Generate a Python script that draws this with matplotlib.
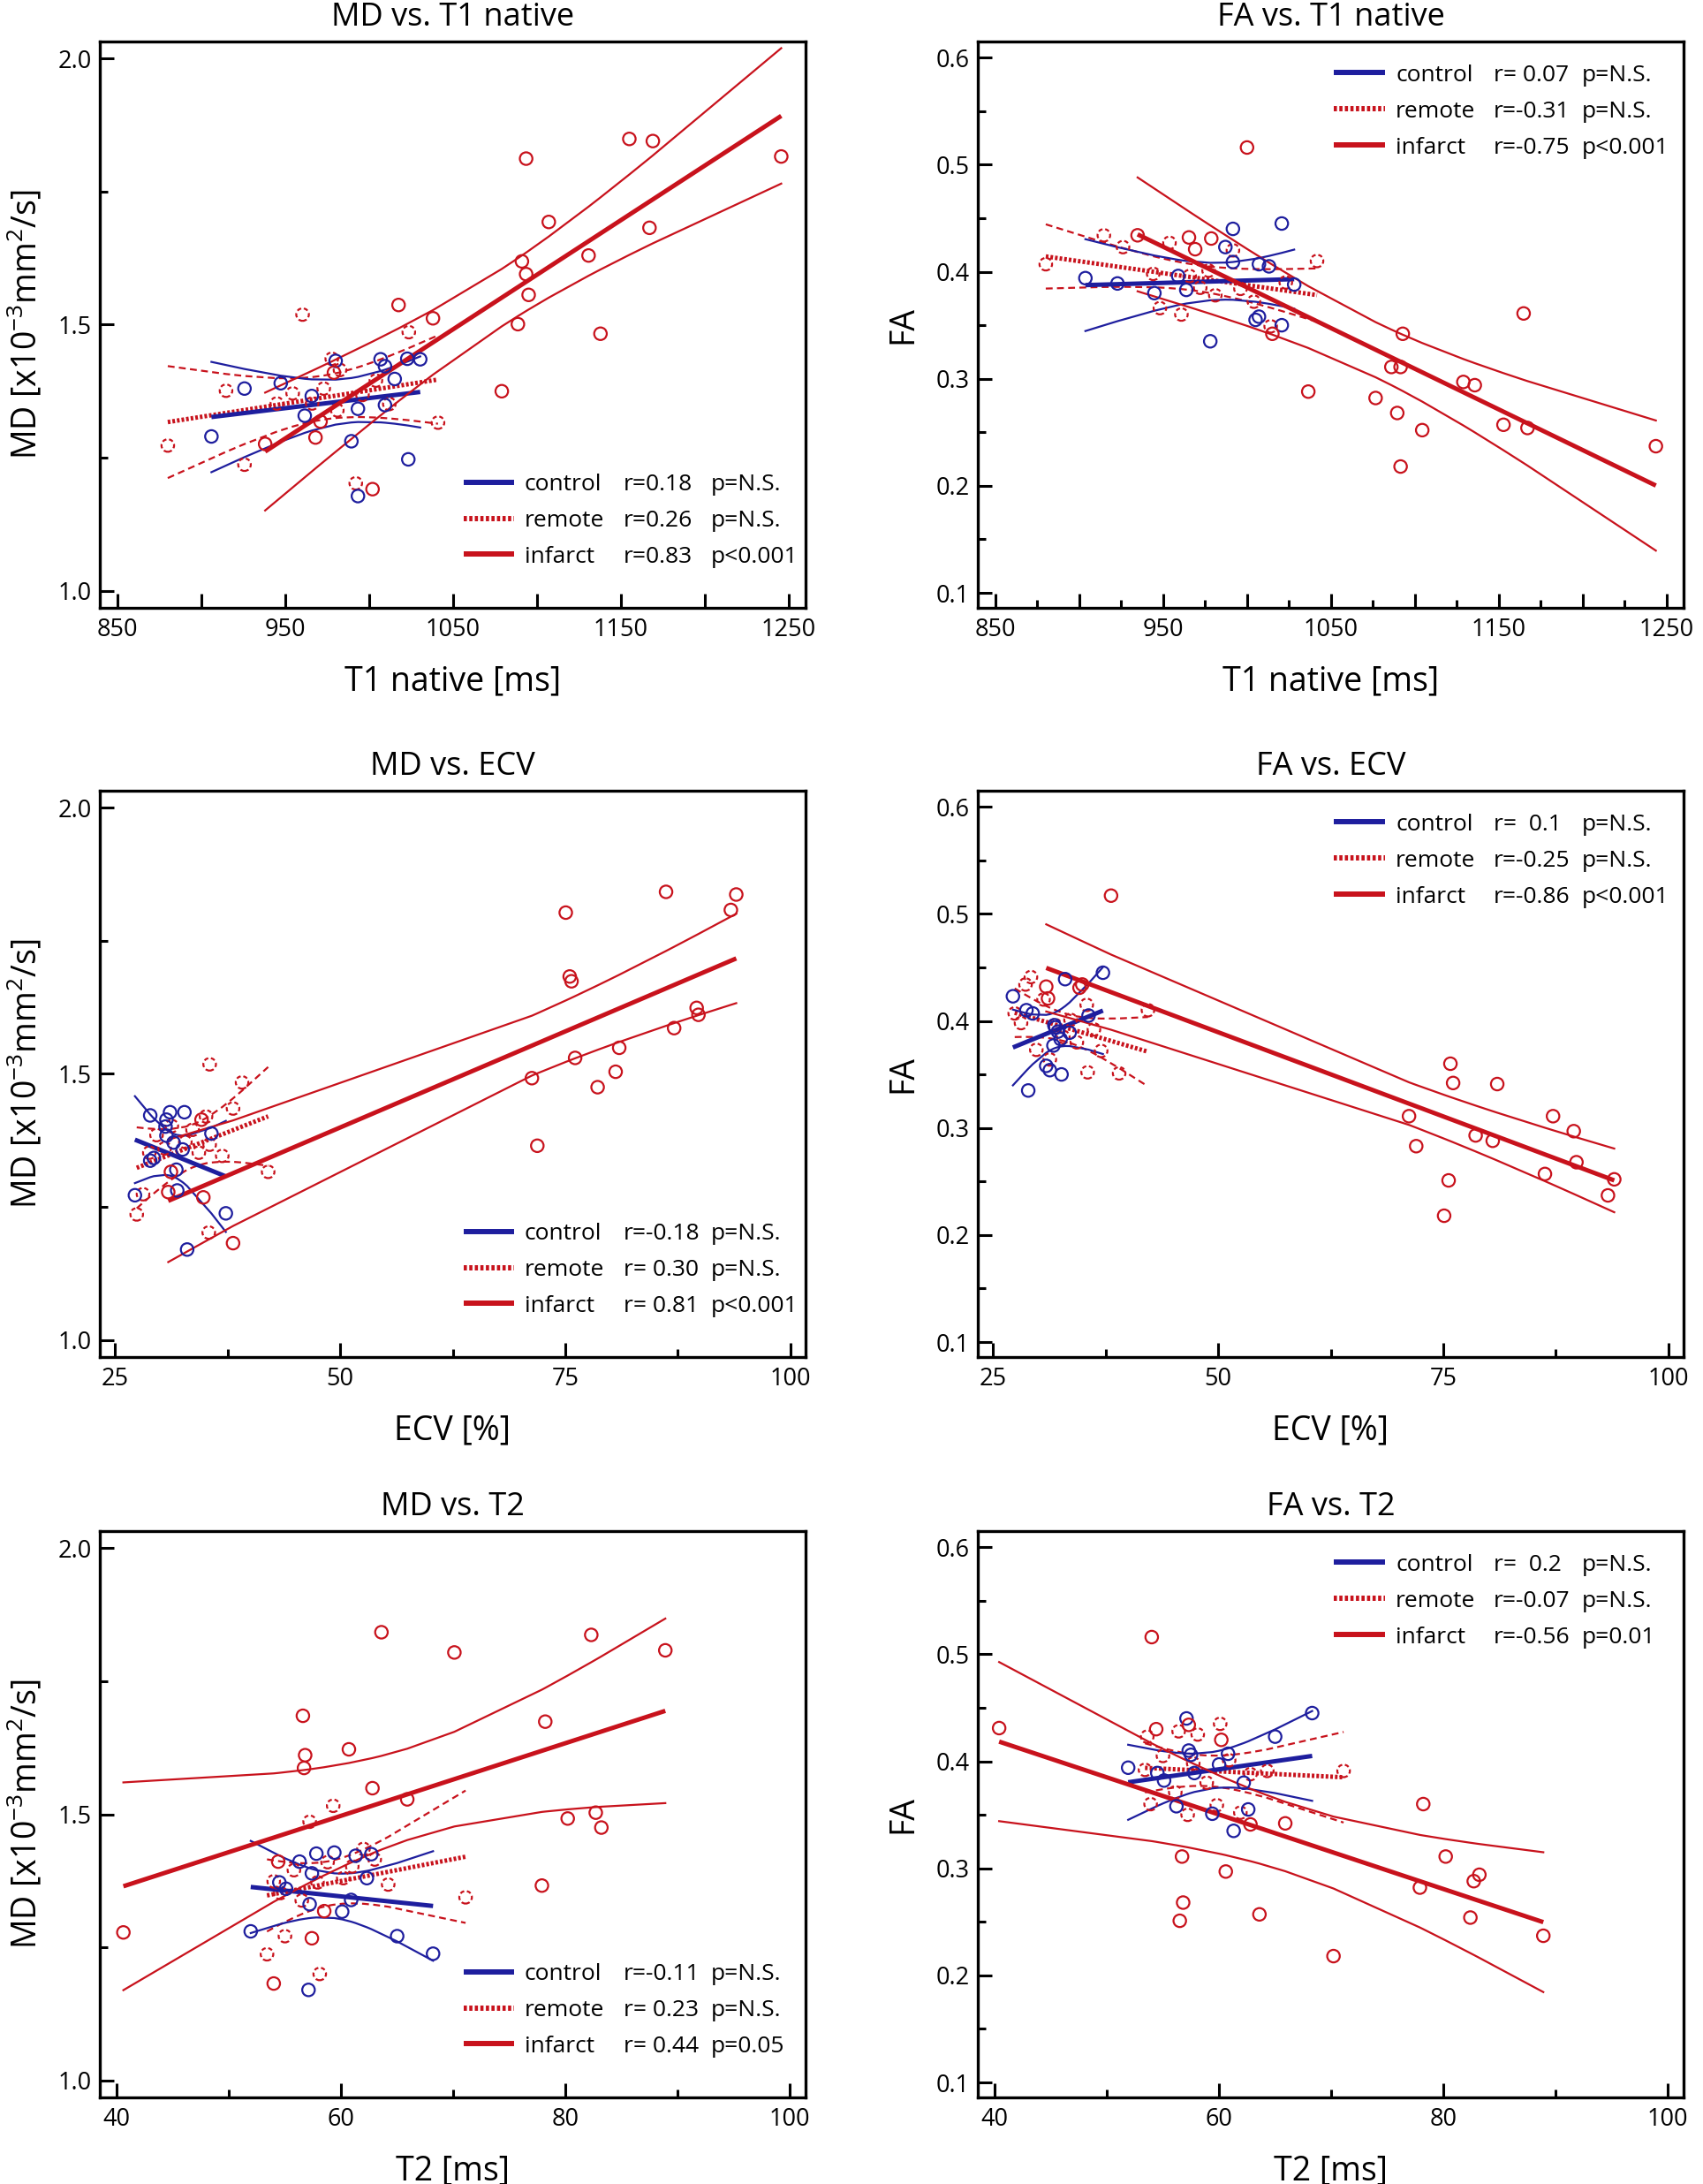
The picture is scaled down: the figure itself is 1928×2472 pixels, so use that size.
import numpy as np
import matplotlib
matplotlib.use('Agg')
import matplotlib.pyplot as plt

plt.rcParams['font.family'] = ['Open Sans', 'DejaVu Sans']
plt.rcParams['mathtext.fontset'] = 'custom'
plt.rcParams['mathtext.rm'] = 'Open Sans'
plt.rcParams['mathtext.it'] = 'Open Sans'

BLUE = '#1e1e9e'
RED = '#c8121c'

# ---------------- data ----------------
# MD vs. T1 native
md_t1_ctrl_x = [906, 925.7, 947.3, 961.6, 965.8, 980, 989.4, 993.3, 993.3, 1006.8, 1009.4, 1009.4, 1015.2, 1022.7, 1023.3, 1030.4]
md_t1_ctrl_y = [1.290, 1.380, 1.390, 1.329, 1.366, 1.432, 1.281, 1.342, 1.178, 1.435, 1.422, 1.349, 1.398, 1.436, 1.247, 1.435]
md_t1_rem_x = [880, 914.7, 925.7, 945, 954.4, 960.3, 966, 972.9, 977.7, 982.6, 981, 992, 996, 1004, 1012, 1023.6, 1041]
md_t1_rem_y = [1.273, 1.376, 1.237, 1.352, 1.371, 1.519, 1.352, 1.380, 1.436, 1.415, 1.339, 1.202, 1.368, 1.395, 1.351, 1.486, 1.316]
md_t1_inf_x = [938, 968, 971, 979, 1002, 1017.5, 1038, 1079, 1088.6, 1091, 1093.5, 1095, 1093.5, 1107, 1130.7, 1137.8, 1155, 1169, 1167, 1245.5]
md_t1_inf_y = [1.276, 1.288, 1.318, 1.410, 1.191, 1.537, 1.512, 1.375, 1.501, 1.619, 1.595, 1.556, 1.812, 1.693, 1.630, 1.483, 1.849, 1.845, 1.682, 1.816]

# FA vs. T1 native
fa_t1_ctrl_x = [903.6, 922.7, 944.7, 958.9, 963.7, 978, 987, 991.5, 991.5, 1005, 1007, 1007, 1013, 1020.6, 1020.6, 1028]
fa_t1_ctrl_y = [0.394, 0.389, 0.380, 0.396, 0.383, 0.335, 0.423, 0.440, 0.409, 0.355, 0.358, 0.407, 0.405, 0.350, 0.445, 0.388]
fa_t1_rem_x = [880, 914.6, 926, 944, 948, 953.7, 960.8, 965.7, 972, 977, 981, 991.5, 996, 1004, 1014, 1023, 1041.6]
fa_t1_rem_y = [0.407, 0.434, 0.423, 0.398, 0.366, 0.427, 0.360, 0.396, 0.385, 0.401, 0.378, 0.420, 0.384, 0.372, 0.349, 0.390, 0.410]
fa_t1_inf_x = [934.7, 965.3, 969, 978.6, 999.9, 1015, 1036.4, 1076.5, 1085.9, 1089.4, 1091.4, 1092.7, 1091.4, 1104.3, 1128.8, 1135.6, 1152.7, 1164.7, 1167, 1243.5]
fa_t1_inf_y = [0.434, 0.432, 0.421, 0.431, 0.516, 0.342, 0.288, 0.282, 0.311, 0.268, 0.311, 0.342, 0.218, 0.252, 0.297, 0.294, 0.257, 0.361, 0.254, 0.237]

# MD vs. ECV
md_ecv_ctrl_x = [27.2, 28.9, 29.3, 28.9, 30.7, 31.1, 32.7, 30.7, 31.5, 32.5, 35.7, 31.8, 31.9, 37.3, 33.0, 30.6]
md_ecv_ctrl_y = [1.272, 1.337, 1.342, 1.422, 1.414, 1.428, 1.428, 1.384, 1.371, 1.358, 1.388, 1.320, 1.281, 1.238, 1.170, 1.401]
md_ecv_rem_x = [27.4, 28.1, 28.8, 29.6, 30.5, 31.3, 32.8, 33.6, 34.3, 35.1, 35.4, 35.5, 35.5, 36.9, 38.1, 39.1, 42.0]
md_ecv_rem_y = [1.236, 1.274, 1.352, 1.385, 1.360, 1.402, 1.372, 1.395, 1.352, 1.420, 1.202, 1.518, 1.367, 1.346, 1.435, 1.484, 1.316]
md_ecv_inf_x = [30.9, 31.2, 34.6, 34.8, 38.1, 71.3, 71.9, 75.06, 75.5, 75.7, 76.1, 78.6, 80.6, 81.0, 86.2, 87.1, 89.6, 89.8, 93.4, 94.0]
md_ecv_inf_y = [1.278, 1.316, 1.414, 1.268, 1.182, 1.492, 1.365, 1.803, 1.683, 1.674, 1.530, 1.475, 1.504, 1.549, 1.842, 1.586, 1.624, 1.611, 1.808, 1.837]

# FA vs. ECV
fa_ecv_ctrl_x = [27.2, 28.7, 29.4, 33.0, 37.2, 35.6, 31.8, 32.2, 32.5, 30.9, 31.3, 32.6, 28.9, 31.7, 31.9, 33.5]
fa_ecv_ctrl_y = [0.423, 0.410, 0.407, 0.439, 0.445, 0.405, 0.396, 0.390, 0.383, 0.358, 0.354, 0.350, 0.335, 0.377, 0.394, 0.389]
fa_ecv_rem_x = [27.4, 28.1, 28.6, 29.2, 29.8, 30.6, 31.3, 31.9, 32.8, 33.6, 34.3, 35.4, 35.5, 36.2, 37.0, 39.0, 42.2]
fa_ecv_rem_y = [0.407, 0.398, 0.434, 0.441, 0.373, 0.420, 0.364, 0.396, 0.385, 0.401, 0.380, 0.415, 0.352, 0.392, 0.372, 0.351, 0.410]
fa_ecv_inf_x = [30.9, 31.1, 34.6, 34.9, 38.1, 71.2, 72.0, 75.1, 75.6, 75.8, 76.1, 78.6, 80.5, 81.0, 86.3, 87.2, 89.5, 89.8, 93.3, 94.0]
fa_ecv_inf_y = [0.432, 0.421, 0.431, 0.434, 0.517, 0.311, 0.283, 0.218, 0.251, 0.360, 0.342, 0.293, 0.288, 0.341, 0.257, 0.311, 0.297, 0.268, 0.237, 0.252]

# MD vs. T2
md_t2_ctrl_x = [51.95, 54.5, 55.1, 56.3, 57.8, 59.4, 61.3, 62.7, 57.4, 62.3, 57.2, 60.9, 60.1, 65.0, 68.2, 57.1]
md_t2_ctrl_y = [1.280, 1.372, 1.360, 1.411, 1.426, 1.428, 1.422, 1.425, 1.389, 1.380, 1.331, 1.339, 1.317, 1.271, 1.238, 1.170]
md_t2_rem_x = [53.4, 54.0, 54.6, 55.0, 55.8, 56.5, 57.2, 57.9, 58.1, 58.8, 59.3, 60.2, 61.0, 62.0, 63.0, 64.2, 71.1]
md_t2_rem_y = [1.237, 1.374, 1.352, 1.271, 1.395, 1.338, 1.486, 1.372, 1.200, 1.410, 1.516, 1.380, 1.402, 1.435, 1.415, 1.368, 1.344]
md_t2_inf_x = [40.6, 54.0, 54.4, 56.6, 56.8, 56.7, 57.4, 58.5, 60.7, 62.8, 63.6, 65.9, 70.1, 77.9, 78.2, 80.2, 82.3, 82.7, 83.2, 88.9]
md_t2_inf_y = [1.278, 1.182, 1.411, 1.685, 1.611, 1.587, 1.267, 1.318, 1.622, 1.549, 1.842, 1.528, 1.804, 1.366, 1.674, 1.492, 1.837, 1.503, 1.475, 1.808]

# FA vs. T2
fa_t2_ctrl_x = [51.9, 54.5, 55.1, 56.2, 57.1, 57.3, 57.5, 57.8, 59.4, 60.0, 60.8, 61.3, 62.2, 62.6, 65.0, 68.3]
fa_t2_ctrl_y = [0.394, 0.389, 0.382, 0.358, 0.440, 0.410, 0.406, 0.389, 0.351, 0.397, 0.407, 0.335, 0.380, 0.355, 0.423, 0.445]
fa_t2_rem_x = [53.4, 53.6, 53.9, 55.0, 56.1, 56.4, 57.2, 57.7, 58.1, 58.9, 59.8, 60.1, 60.9, 61.9, 62.8, 64.3, 71.1]
fa_t2_rem_y = [0.392, 0.423, 0.360, 0.405, 0.371, 0.428, 0.350, 0.398, 0.425, 0.380, 0.359, 0.435, 0.401, 0.352, 0.388, 0.391, 0.391]
fa_t2_inf_x = [40.4, 54.0, 54.4, 57.3, 60.2, 56.7, 56.8, 56.5, 60.6, 62.8, 63.6, 65.9, 70.2, 77.9, 78.2, 80.2, 82.4, 82.7, 83.2, 88.9]
fa_t2_inf_y = [0.431, 0.516, 0.430, 0.434, 0.420, 0.311, 0.268, 0.251, 0.297, 0.341, 0.257, 0.342, 0.218, 0.282, 0.360, 0.311, 0.254, 0.288, 0.294, 0.237]

# legend statistics (r column, p column)
stats_md_t1 = [('r=0.18', 'p=N.S.'), ('r=0.26', 'p=N.S.'), ('r=0.83', 'p<0.001')]
stats_fa_t1 = [('r= 0.07', 'p=N.S.'), ('r=-0.31', 'p=N.S.'), ('r=-0.75', 'p<0.001')]
stats_md_ecv = [('r=-0.18', 'p=N.S.'), ('r= 0.30', 'p=N.S.'), ('r= 0.81', 'p<0.001')]
stats_fa_ecv = [('r=  0.1', 'p=N.S.'), ('r=-0.25', 'p=N.S.'), ('r=-0.86', 'p<0.001')]
stats_md_t2 = [('r=-0.11', 'p=N.S.'), ('r= 0.23', 'p=N.S.'), ('r= 0.44', 'p=0.05')]
stats_fa_t2 = [('r=  0.2', 'p=N.S.'), ('r=-0.07', 'p=N.S.'), ('r=-0.56', 'p=0.01')]

group_names = ['control', 'remote', 'infarct']

# ---------------- helpers ----------------
W, H = 1928, 2472
col_left = [113, 1107]
row_top = [47, 895, 1733]
AW, AH = 799, 641

THICK = 3.6
THIN = 1.6
REM_THICK = (0, (0.6, 0.45))
REM_THIN = (0, (3.5, 2.2))


def tcrit(df):
    z = 1.959964
    return z + (z**3 + z) / (4 * df) + (5 * z**5 + 16 * z**3 + 3 * z) / (96 * df**2)


def regression(ax, x, y, color, remote):
    # least squares fit with 95% confidence band of the mean
    x = np.asarray(x, float)
    y = np.asarray(y, float)
    n = len(x)
    b, a = np.polyfit(x, y, 1)
    s = np.sqrt(np.sum((y - (a + b * x))**2) / (n - 2))
    sxx = np.sum((x - x.mean())**2)
    xs = np.unique(x)
    yh = a + b * xs
    w = tcrit(n - 2) * s * np.sqrt(1.0 / n + (xs - x.mean())**2 / sxx)
    thin_ls = REM_THIN if remote else '-'
    thick_ls = REM_THICK if remote else '-'
    ax.plot(xs, yh + w, color=color, lw=THIN, ls=thin_ls)
    ax.plot(xs, yh - w, color=color, lw=THIN, ls=thin_ls)
    ax.plot(xs, yh, color=color, lw=THICK, ls=thick_ls, solid_capstyle='butt')
    ax.scatter(x, y, s=105, facecolors='none', edgecolors=color, linewidths=1.6,
               linestyle=(0, (2.2, 1.4)) if remote else '-', zorder=3)


def axis_setup(ax, xkind, ykind, col):
    if xkind == 'T1':
        ax.set_xlim(839.5, 1260)
        ticks = np.arange(850, 1251, 50)
        ax.set_xticks(ticks)
        ax.set_xticklabels([str(v) if (v - 850) % 100 == 0 else '' for v in ticks])
        if col == 1:
            ax.set_xticks(np.arange(875, 1250, 50), minor=True)
        xlabel = 'T1 native [ms]'
    elif xkind == 'ECV':
        ax.set_xlim(23.3, 101.7)
        ax.set_xticks([25, 50, 75, 100])
        ax.set_xticks([37.5, 62.5, 87.5], minor=True)
        xlabel = 'ECV [%]'
    else:
        ax.set_xlim(38.5, 101.4)
        ax.set_xticks([40, 60, 80, 100])
        ax.set_xticks([50, 70, 90], minor=True)
        xlabel = 'T2 [ms]'
    if ykind == 'MD':
        ax.set_ylim(0.968, 2.032)
        ax.set_yticks([1.0, 1.5, 2.0])
        ax.set_yticklabels(['1.0', '1.5', '2.0'])
        ax.set_yticks([1.25, 1.75], minor=True)
        ylabel = r'MD [x10$^{\mathrm{-3}}$mm$^{\mathrm{2}}$/s]'
    else:
        ax.set_ylim(0.086, 0.615)
        yt = [0.1, 0.2, 0.3, 0.4, 0.5, 0.6]
        ax.set_yticks(yt)
        ax.set_yticklabels(['%.1f' % v for v in yt])
        ax.set_yticks([0.15, 0.25, 0.35, 0.45, 0.55], minor=True)
        ylabel = 'FA'
    ax.tick_params(which='both', direction='in', top=False, right=False, width=2.2, labelsize=19.5)
    ax.tick_params(which='major', length=11.5)
    ax.tick_params(which='minor', length=6.5)
    ax.tick_params(axis='x', pad=8)
    ax.tick_params(axis='y', pad=6.5)
    if xkind == 'T1' and col == 0:
        ax.tick_params(axis='x', which='minor', length=11.5)
    for sp in ax.spines.values():
        sp.set_linewidth(2.4)
    ax.set_xlabel(xlabel, fontsize=27)
    ax.xaxis.set_label_coords(0.5, -93 / AH)
    ax.xaxis.label.set_va('baseline')
    ax.set_ylabel(ylabel, fontsize=27)
    ax.yaxis.set_label_coords(-0.106, 0.5)
    ax.yaxis.label.set_va('center')


def draw_legend(ax, stats, top, col):
    ys = [0.945, 0.881, 0.817] if top else [0.222, 0.158, 0.095]
    if col == 0:
        x0, x1, tx, rx, px = 0.516, 0.587, 0.602, 0.742, 0.866
    else:
        x0, x1, tx, rx, px = 0.504, 0.577, 0.592, 0.731, 0.856
    colors = [BLUE, RED, RED]
    styles = ['-', REM_THICK, '-']
    for i in range(3):
        y = ys[i]
        ax.plot([x0, x1], [y, y], transform=ax.transAxes, color=colors[i], lw=4.3,
                ls=styles[i], solid_capstyle='butt', clip_on=False)
        ax.text(tx, y, group_names[i], transform=ax.transAxes, fontsize=19, va='center_baseline')
        ax.text(rx, y, stats[i][0], transform=ax.transAxes, fontsize=19, va='center_baseline')
        ax.text(px, y, stats[i][1], transform=ax.transAxes, fontsize=19, va='center_baseline')


fig = plt.figure(figsize=(W / 100, H / 100), dpi=100)

panels = [
    (0, 0, 'MD vs. T1 native', 'T1', 'MD',
     (md_t1_ctrl_x, md_t1_ctrl_y), (md_t1_rem_x, md_t1_rem_y), (md_t1_inf_x, md_t1_inf_y), stats_md_t1, False),
    (0, 1, 'FA vs. T1 native', 'T1', 'FA',
     (fa_t1_ctrl_x, fa_t1_ctrl_y), (fa_t1_rem_x, fa_t1_rem_y), (fa_t1_inf_x, fa_t1_inf_y), stats_fa_t1, True),
    (1, 0, 'MD vs. ECV', 'ECV', 'MD',
     (md_ecv_ctrl_x, md_ecv_ctrl_y), (md_ecv_rem_x, md_ecv_rem_y), (md_ecv_inf_x, md_ecv_inf_y), stats_md_ecv, False),
    (1, 1, 'FA vs. ECV', 'ECV', 'FA',
     (fa_ecv_ctrl_x, fa_ecv_ctrl_y), (fa_ecv_rem_x, fa_ecv_rem_y), (fa_ecv_inf_x, fa_ecv_inf_y), stats_fa_ecv, True),
    (2, 0, 'MD vs. T2', 'T2', 'MD',
     (md_t2_ctrl_x, md_t2_ctrl_y), (md_t2_rem_x, md_t2_rem_y), (md_t2_inf_x, md_t2_inf_y), stats_md_t2, False),
    (2, 1, 'FA vs. T2', 'T2', 'FA',
     (fa_t2_ctrl_x, fa_t2_ctrl_y), (fa_t2_rem_x, fa_t2_rem_y), (fa_t2_inf_x, fa_t2_inf_y), stats_fa_t2, True),
]

for row, col, title, xk, yk, ctrl, rem, inf, stats, top in panels:
    l = col_left[col]
    t = row_top[row]
    ax = fig.add_axes([l / W, 1 - (t + AH) / H, AW / W, AH / H])
    regression(ax, rem[0], rem[1], RED, True)
    regression(ax, ctrl[0], ctrl[1], BLUE, False)
    regression(ax, inf[0], inf[1], RED, False)
    axis_setup(ax, xk, yk, col)
    draw_legend(ax, stats, top, col)
    ax.text(0.5, 1 + 18 / AH, title, transform=ax.transAxes, ha='center', va='baseline', fontsize=26)

fig.savefig('out.png', dpi=100)
